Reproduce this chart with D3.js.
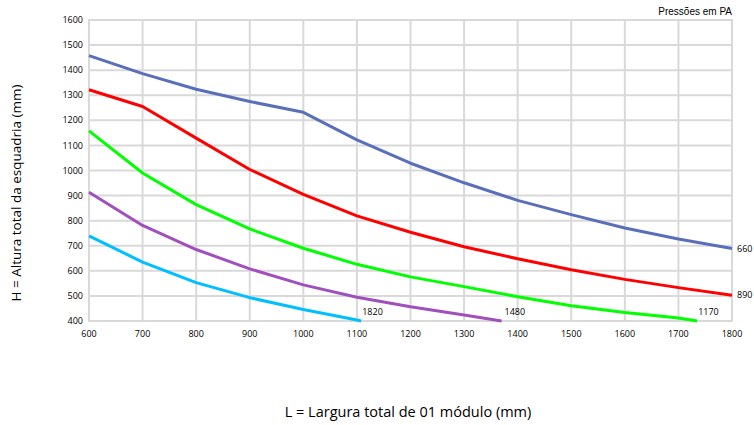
<!DOCTYPE html>
<html><head><meta charset="utf-8">
<script src="https://cdn.jsdelivr.net/npm/d3@7"></script>
<style>body{margin:0;background:#fff}</style>
</head><body><svg id="c" width="754" height="425"></svg>
<script>
const xTicks = [600,700,800,900,1000,1100,1200,1300,1400,1500,1600,1700,1800];
const yTicks = [400,500,600,700,800,900,1000,1100,1200,1300,1400,1500,1600];
const seriesNames = ["660","890","1170","1480","1820"];
const seriesColors = ["#5a6fb9","#ff0000","#00ff00","#a050bd","#00bfff"];
const s660x = [600,700,800,900,1000,1100,1200,1300,1400,1500,1600,1700,1800];
const s660y = [1458,1386,1324,1275,1232,1122,1029,951,881,824,771,727,689];
const s890x = [600,700,800,900,1000,1100,1200,1300,1400,1500,1600,1700,1800];
const s890y = [1322,1255,1129,1004,905,819,754,696,648,604,566,533,503];
const s1170x = [600,700,800,900,1000,1100,1200,1300,1400,1500,1600,1700,1735];
const s1170y = [1158,990,864,767,690,626,576,537,497,461,434,412,400];
const s1480x = [600,700,800,900,1000,1100,1200,1300,1370];
const s1480y = [913,781,685,608,544,495,457,424,400];
const s1820x = [600,700,800,900,1000,1100,1108];
const s1820y = [739,635,553,493,446,404,400];
const seriesX = [s660x,s890x,s1170x,s1480x,s1820x];
const seriesY = [s660y,s890y,s1170y,s1480y,s1820y];

const svg = d3.select("#c");
const x = d3.scaleLinear().domain([600,1800]).range([89,732]);
const y = d3.scaleLinear().domain([400,1600]).range([321,20]);

// grid
svg.append("g").selectAll("line").data(xTicks).join("line")
  .attr("x1",d=>x(d)).attr("x2",d=>x(d)).attr("y1",y(400)).attr("y2",y(1600))
  .attr("stroke","#d9d9d9").attr("stroke-width",2);
svg.append("g").selectAll("line").data(yTicks).join("line")
  .attr("y1",d=>y(d)).attr("y2",d=>y(d)).attr("x1",x(600)-1).attr("x2",x(1800)+1)
  .attr("stroke","#d9d9d9").attr("stroke-width",2);

// tick labels
const tf = "'Open Sans', 'Noto Sans', sans-serif";
svg.append("g").selectAll("text").data(yTicks).join("text")
  .attr("x",83).attr("y",d=>y(d)).attr("dy","0.35em").attr("text-anchor","end")
  .attr("font-family",tf).attr("font-size",9).attr("fill","#000").text(d=>d);
svg.append("g").selectAll("text").data(xTicks).join("text")
  .attr("x",d=>x(d)).attr("y",334).attr("dy","0.35em").attr("text-anchor","middle")
  .attr("font-family",tf).attr("font-size",9).attr("fill","#000").text(d=>d);

// lines
const line = d3.line().x(d=>x(d[0])).y(d=>y(d[1]));
seriesNames.forEach((n,i)=>{
  const pts = seriesX[i].map((v,j)=>[v,seriesY[i][j]]);
  svg.append("path").datum(pts).attr("d",line).attr("fill","none")
    .attr("stroke",seriesColors[i]).attr("stroke-width",3).attr("stroke-linejoin","round");
});

// series labels
const lab = [
  {t:"660", x:1800, y:689, dx:5, dy:0},
  {t:"890", x:1800, y:503, dx:5, dy:0},
  {t:"1170", x:1735, y:400, dx:1, dy:-9},
  {t:"1480", x:1370, y:400, dx:3, dy:-9},
  {t:"1820", x:1108, y:400, dx:1, dy:-9}
];
svg.append("g").selectAll("text").data(lab).join("text")
  .attr("x",d=>x(d.x)+d.dx).attr("y",d=>y(d.y)+d.dy).attr("dy","0.35em")
  .attr("font-family",tf).attr("font-size",9).attr("fill","#000").text(d=>d.t);

svg.append("text").attr("x",732).attr("y",15).attr("text-anchor","end")
  .attr("font-family","'Liberation Sans', Arial, sans-serif").attr("font-size",10).text("Pressões em PA");

svg.append("text").attr("transform","translate(21,193) rotate(-90)").attr("text-anchor","middle")
  .attr("font-family",tf).attr("font-size",13.5).text("H = Altura total da esquadria (mm)");
svg.append("text").attr("x",408).attr("y",417).attr("text-anchor","middle")
  .attr("font-family",tf).attr("font-size",14.5).text("L = Largura total de 01 módulo (mm)");
</script></body></html>
